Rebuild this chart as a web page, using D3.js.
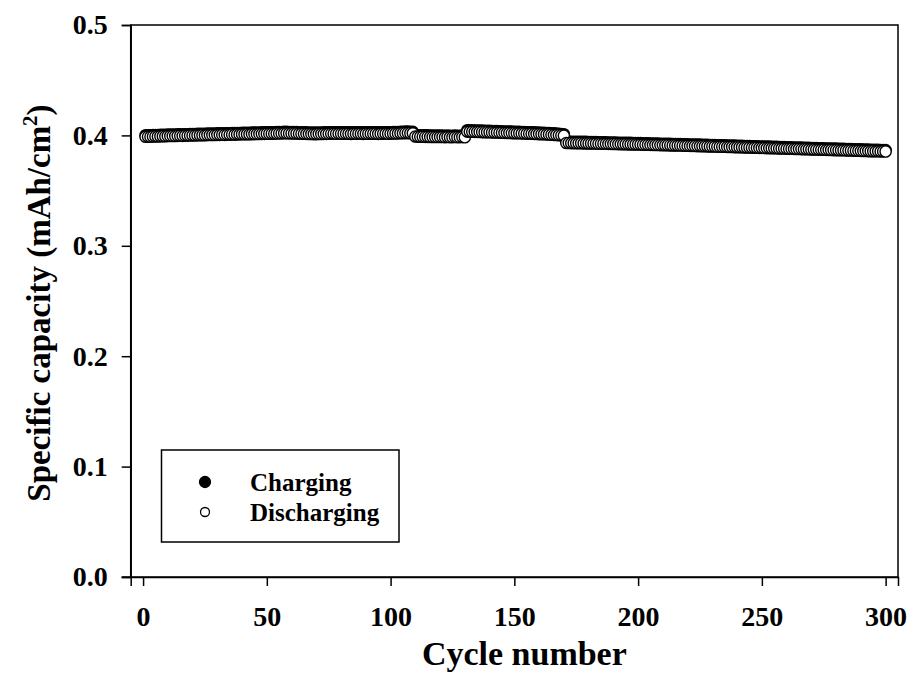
<!DOCTYPE html>
<html><head><meta charset="utf-8">
<script src="https://cdn.jsdelivr.net/npm/d3@7"></script>
<style>body{margin:0;background:#fff;} svg{display:block;}</style>
</head><body>
<svg id="chart" width="912" height="694"></svg>
<script>
const cycles = d3.range(1, 301);
const discharging = [
0.3988,0.3989,0.3988,0.3990,0.3991,0.3990,0.3992,0.3993,0.3992,0.3994,
0.3994,0.3995,0.3994,0.3996,0.3997,0.3996,0.3998,0.3998,0.3999,0.4000,
0.3999,0.4001,0.4001,0.4002,0.4001,0.4003,0.4003,0.4004,0.4003,0.4005,
0.4005,0.4006,0.4005,0.4007,0.4007,0.4008,0.4007,0.4009,0.4009,0.4010,
0.4010,0.4011,0.4010,0.4012,0.4012,0.4013,0.4013,0.4014,0.4014,0.4015,
0.4015,0.4016,0.4016,0.4017,0.4018,0.4018,0.4019,0.4019,0.4018,0.4018,
0.4017,0.4017,0.4016,0.4015,0.4015,0.4014,0.4013,0.4013,0.4012,0.4012,
0.4013,0.4013,0.4014,0.4014,0.4015,0.4016,0.4016,0.4015,0.4016,0.4015,
0.4015,0.4016,0.4015,0.4014,0.4015,0.4015,0.4016,0.4015,0.4014,0.4015,
0.4015,0.4016,0.4015,0.4015,0.4014,0.4015,0.4016,0.4016,0.4015,0.4016,
0.4017,0.4017,0.4018,0.4019,0.4020,0.4021,0.4021,0.4020,0.4019,
0.3990,0.3989,0.3988,0.3988,0.3987,0.3987,0.3986,0.3986,0.3986,0.3985,0.3985,
0.3985,0.3984,0.3985,0.3984,0.3984,0.3985,0.3984,0.3984,0.3985,0.3983,
0.4034,0.4034,0.4033,0.4032,0.4032,0.4031,0.4030,0.4029,0.4029,0.4028,
0.4027,0.4026,0.4026,0.4025,0.4024,0.4023,0.4023,0.4022,0.4021,0.4020,
0.4019,0.4019,0.4018,0.4017,0.4016,0.4016,0.4015,0.4014,0.4013,0.4012,
0.4011,0.4010,0.4009,0.4008,0.4006,0.4005,0.4003,0.4002,0.4000,0.3998,
0.3931,0.3931,0.3930,0.3930,0.3929,0.3929,0.3929,0.3928,0.3928,0.3927,
0.3927,0.3926,0.3926,0.3925,0.3925,0.3924,0.3924,0.3923,0.3923,0.3922,
0.3922,0.3921,0.3921,0.3920,0.3920,0.3919,0.3919,0.3918,0.3918,0.3917,
0.3917,0.3916,0.3916,0.3915,0.3914,0.3914,0.3913,0.3913,0.3912,0.3912,
0.3911,0.3911,0.3910,0.3909,0.3909,0.3908,0.3908,0.3907,0.3906,0.3906,
0.3905,0.3905,0.3904,0.3903,0.3903,0.3902,0.3902,0.3901,0.3900,0.3900,
0.3899,0.3898,0.3898,0.3897,0.3897,0.3896,0.3895,0.3895,0.3894,0.3893,
0.3893,0.3892,0.3891,0.3891,0.3890,0.3889,0.3889,0.3888,0.3887,0.3887,
0.3886,0.3885,0.3885,0.3884,0.3883,0.3883,0.3882,0.3881,0.3881,0.3880,
0.3879,0.3879,0.3878,0.3877,0.3877,0.3876,0.3875,0.3875,0.3874,0.3873,
0.3873,0.3872,0.3871,0.3871,0.3870,0.3869,0.3869,0.3868,0.3867,0.3867,
0.3866,0.3865,0.3865,0.3864,0.3863,0.3863,0.3862,0.3861,0.3861,0.3860,
0.3859,0.3859,0.3858,0.3857,0.3857,0.3856,0.3856,0.3855,0.3855,0.3854];
const charging = [
0.4001,0.4002,0.4002,0.4003,0.4004,0.4004,0.4005,0.4006,0.4006,0.4007,
0.4007,0.4008,0.4008,0.4009,0.4010,0.4010,0.4011,0.4011,0.4012,0.4013,
0.4013,0.4014,0.4014,0.4015,0.4015,0.4016,0.4016,0.4017,0.4017,0.4018,
0.4018,0.4019,0.4019,0.4020,0.4020,0.4021,0.4021,0.4022,0.4022,0.4023,
0.4023,0.4024,0.4024,0.4025,0.4025,0.4026,0.4026,0.4027,0.4027,0.4028,
0.4028,0.4029,0.4029,0.4030,0.4031,0.4031,0.4032,0.4032,0.4031,0.4031,
0.4030,0.4030,0.4029,0.4028,0.4028,0.4027,0.4026,0.4026,0.4025,0.4025,
0.4026,0.4026,0.4027,0.4027,0.4028,0.4029,0.4029,0.4028,0.4029,0.4028,
0.4028,0.4029,0.4028,0.4027,0.4028,0.4028,0.4029,0.4028,0.4027,0.4028,
0.4028,0.4029,0.4028,0.4028,0.4027,0.4028,0.4029,0.4029,0.4028,0.4029,
0.4030,0.4030,0.4031,0.4032,0.4033,0.4034,0.4034,0.4033,0.4032,
0.4003,0.4002,0.4001,0.4001,0.4000,0.4000,0.3999,0.3999,0.3999,0.3998,0.3998,
0.3998,0.3997,0.3998,0.3997,0.3997,0.3998,0.3997,0.3997,0.3998,0.3996,
0.4047,0.4047,0.4046,0.4045,0.4045,0.4044,0.4043,0.4042,0.4042,0.4041,
0.4040,0.4039,0.4039,0.4038,0.4037,0.4036,0.4036,0.4035,0.4034,0.4033,
0.4032,0.4032,0.4031,0.4030,0.4029,0.4029,0.4028,0.4027,0.4026,0.4025,
0.4024,0.4023,0.4022,0.4021,0.4019,0.4018,0.4016,0.4015,0.4013,0.4011,
0.3944,0.3944,0.3943,0.3943,0.3942,0.3942,0.3942,0.3941,0.3941,0.3940,
0.3940,0.3939,0.3939,0.3938,0.3938,0.3937,0.3937,0.3936,0.3936,0.3935,
0.3935,0.3934,0.3934,0.3933,0.3933,0.3932,0.3932,0.3931,0.3931,0.3930,
0.3930,0.3929,0.3929,0.3928,0.3927,0.3927,0.3926,0.3926,0.3925,0.3925,
0.3924,0.3924,0.3923,0.3922,0.3922,0.3921,0.3921,0.3920,0.3919,0.3919,
0.3918,0.3918,0.3917,0.3916,0.3916,0.3915,0.3915,0.3914,0.3913,0.3913,
0.3912,0.3911,0.3911,0.3910,0.3910,0.3909,0.3908,0.3908,0.3907,0.3906,
0.3906,0.3905,0.3904,0.3904,0.3903,0.3902,0.3902,0.3901,0.3900,0.3900,
0.3899,0.3898,0.3898,0.3897,0.3896,0.3896,0.3895,0.3894,0.3894,0.3893,
0.3892,0.3892,0.3891,0.3890,0.3890,0.3889,0.3888,0.3888,0.3887,0.3886,
0.3886,0.3885,0.3884,0.3884,0.3883,0.3882,0.3882,0.3881,0.3880,0.3880,
0.3879,0.3878,0.3878,0.3877,0.3876,0.3876,0.3875,0.3874,0.3874,0.3873,
0.3872,0.3872,0.3871,0.3870,0.3870,0.3869,0.3869,0.3868,0.3868,0.3867];
const xTicks = [0, 50, 100, 150, 200, 250, 300];
const yTicks = [0.0, 0.1, 0.2, 0.3, 0.4, 0.5];
const seriesNames = ["Charging", "Discharging"];
const xTitle = "Cycle number";

const FONT = "'Liberation Serif','Times New Roman',serif";
const svg = d3.select("#chart");
const L = 130.7, R = 898, T = 25, B = 577;
const x = d3.scaleLinear().domain([-5, 305]).range([L, R]);
const y = d3.scaleLinear().domain([0, 0.5]).range([B, T]);

svg.append("rect").attr("x", L).attr("y", T).attr("width", R - L).attr("height", B - T)
  .attr("fill", "none").attr("stroke", "#000").attr("stroke-width", 1.5);

const xAxis = svg.append("g").attr("transform", `translate(0,${B})`)
  .call(d3.axisBottom(x).tickValues(xTicks).tickSize(9).tickPadding(20).tickFormat(d3.format("d")));
const yAxis = svg.append("g").attr("transform", `translate(${L},0)`)
  .call(d3.axisLeft(y).tickValues(yTicks).tickSize(9).tickPadding(14).tickFormat(d3.format(".1f")));
[xAxis, yAxis].forEach(g => {
  g.select(".domain").attr("stroke", "#000").attr("stroke-width", 1.5);
  g.selectAll(".tick line").attr("stroke", "#000").attr("stroke-width", 1.5);
  g.selectAll(".tick text").attr("fill", "#000").attr("font-family", FONT)
    .attr("font-weight", "bold").attr("font-size", 28);
});
svg.append("line").attr("x1", L - 9).attr("x2", L).attr("y1", B).attr("y2", B)
  .attr("stroke", "#000").attr("stroke-width", 1.5);

const data = cycles.map((c, i) => ({c, ch: charging[i], dis: discharging[i]}));
const R0 = 5.6;
svg.append("g").selectAll("circle").data(data).join("circle")
  .attr("cx", d => x(d.c)).attr("cy", d => y(d.ch)).attr("r", R0)
  .attr("fill", "#000").attr("stroke", "#000").attr("stroke-width", 1.4);
svg.append("g").selectAll("circle").data(data).join("circle")
  .attr("cx", d => x(d.c)).attr("cy", d => y(d.dis)).attr("r", R0)
  .attr("fill", "#fff").attr("stroke", "#000").attr("stroke-width", 1.4);

const lg = svg.append("g");
lg.append("rect").attr("x", 161.5).attr("y", 450).attr("width", 237.5).attr("height", 92)
  .attr("fill", "#fff").attr("stroke", "#000").attr("stroke-width", 1.5);
seriesNames.forEach((name, i) => {
  const cy = 482 + i * 30;
  lg.append("circle").attr("cx", 205).attr("cy", cy).attr("r", i === 0 ? 5.5 : 4.5)
    .attr("fill", i === 0 ? "#000" : "#fff").attr("stroke", "#000").attr("stroke-width", 1.3);
  lg.append("text").attr("x", 250).attr("y", cy).attr("dy", "0.35em")
    .attr("font-family", FONT).attr("font-weight", "bold").attr("font-size", 25).text(name);
});

svg.append("text").attr("x", (L + R) / 2 + 10).attr("y", 665).attr("text-anchor", "middle")
  .attr("font-family", FONT).attr("font-weight", "bold").attr("font-size", 34).text(xTitle);
const yt = svg.append("text").attr("transform", `translate(50,${(T + B) / 2 + 2}) rotate(-90)`)
  .attr("text-anchor", "middle").attr("font-family", FONT).attr("font-weight", "bold").attr("font-size", 33);
yt.append("tspan").text("Specific capacity (mAh/cm");
yt.append("tspan").attr("dy", -13).attr("font-size", 21).text("2");
yt.append("tspan").attr("dy", 13).text(")");
</script>
</body></html>
